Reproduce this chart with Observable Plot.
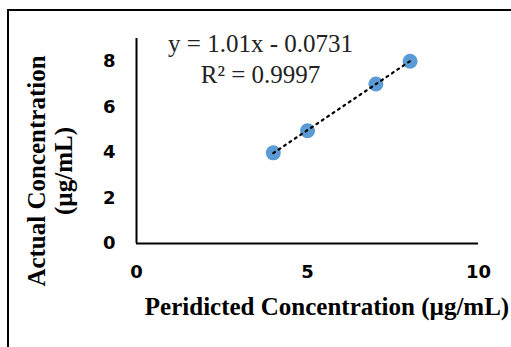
<!DOCTYPE html>
<html>
<head>
<meta charset="utf-8">
<script src="https://cdn.jsdelivr.net/npm/d3@7"></script>
<script src="https://cdn.jsdelivr.net/npm/@observablehq/plot@0.6"></script>
<style>
  html, body { margin: 0; padding: 0; background: #fff; }
  #wrap { position: relative; width: 511px; height: 347px; overflow: hidden; }
  #frame { position: absolute; left: 7px; top: 9px; width: 520px; height: 360px;
           border-top: 2px solid #000; border-left: 2px solid #000; pointer-events: none; }
  #chart { position: absolute; left: 0; top: 0; }
</style>
</head>
<body>
<div id="wrap"><div id="chart"></div><div id="frame"></div></div>
<script>
const predicted = [4, 5, 7, 8];
const actual = [3.98, 4.95, 7.0, 8.0];
const xTicks = [0, 5, 10];
const yTicks = [0, 2, 4, 6, 8];
const slope = 1.01, intercept = -0.0731;
const eqLabel = "y = 1.01x - 0.0731";
const r2Label = "R² = 0.9997";
const xTitle = "Peridicted Concentration (µg/mL)";
const yTitleLines = ["Actual Concentration", "(µg/mL)"];

const points = predicted.map((x, i) => ({x, y: actual[i]}));
const trend = [predicted[0], predicted[predicted.length - 1]].map(x => ({x, y: slope * x + intercept}));

const plot = Plot.plot({
  width: 511,
  height: 347,
  marginLeft: 136,
  marginRight: 33,
  marginTop: 38,
  marginBottom: 104,
  style: {background: "transparent"},
  x: {domain: [0, 10], label: null},
  y: {domain: [0, 9], label: null},
  marks: [
    Plot.axisX({ticks: xTicks, tickSize: 0, tickPadding: 22, fontSize: 18, fontWeight: "bold",
      fontFamily: "DejaVu Sans", fill: "#000", label: null}),
    Plot.axisY({ticks: yTicks, tickSize: 0, tickPadding: 21, fontSize: 18, fontWeight: "bold",
      fontFamily: "DejaVu Sans", fill: "#000", label: null}),
    Plot.ruleY([0], {stroke: "#000", strokeWidth: 2}),
    Plot.ruleX([0], {stroke: "#000", strokeWidth: 2}),
    Plot.dot(points, {x: "x", y: "y", r: 7.5, fill: "#5b9bd5", stroke: null}),
    Plot.line(trend, {x: "x", y: "y", stroke: "#000", strokeWidth: 2.2, strokeDasharray: "2,4.5"}),
    Plot.text([eqLabel], {frameAnchor: "top-left", dx: 124, dy: -4, fontSize: 25,
      fontFamily: "Liberation Serif", fill: "#222", textAnchor: "middle"}),
    Plot.text([r2Label], {frameAnchor: "top-left", dx: 124, dy: 27, fontSize: 25,
      fontFamily: "Liberation Serif", fill: "#222", textAnchor: "middle"})
  ]
});

const svg = d3.select(plot);
svg.append("text")
  .attr("x", 327).attr("y", 315)
  .attr("text-anchor", "middle")
  .attr("font-family", "Liberation Serif")
  .attr("font-weight", "bold")
  .attr("font-size", 25)
  .attr("fill", "#000")
  .text(xTitle);
yTitleLines.forEach((t, i) => {
  svg.append("text")
    .attr("transform", `translate(${45 + i * 27},171) rotate(-90)`)
    .attr("text-anchor", "middle")
    .attr("font-family", "Liberation Serif")
    .attr("font-weight", "bold")
    .attr("font-size", 25)
    .attr("fill", "#000")
    .text(t);
});
document.getElementById("chart").appendChild(plot);
</script>
</body>
</html>
